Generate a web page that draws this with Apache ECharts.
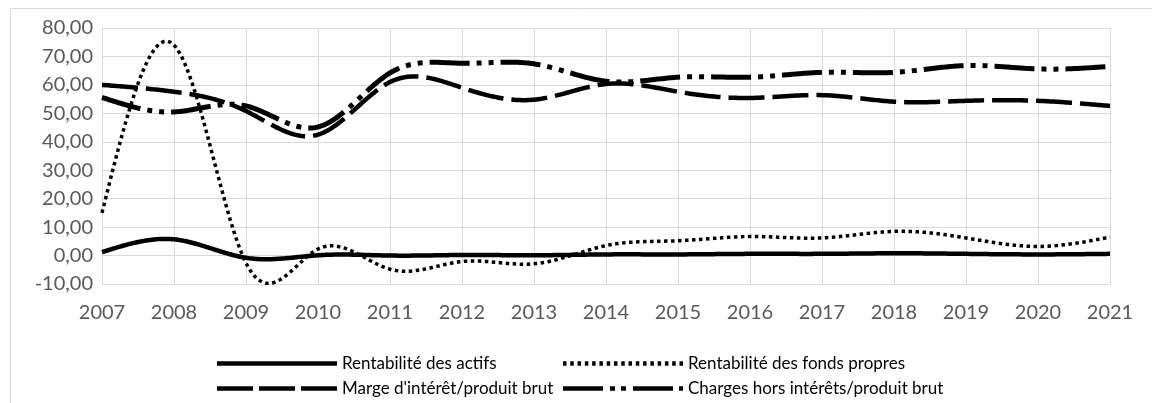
<!DOCTYPE html>
<html>
<head>
<meta charset="utf-8">
<script src="https://cdn.jsdelivr.net/npm/echarts@6/dist/echarts.min.js"></script>
<style>
html,body{margin:0;padding:0;background:#fff;}
#chart{width:1152px;height:403px;}
</style>
</head>
<body>
<div id="chart"></div>
<script>
var years = ['2007','2008','2009','2010','2011','2012','2013','2014','2015','2016','2017','2018','2019','2020','2021'];
var roa = [1.2, 5.7, -0.8, 0.1, 0.0, 0.2, 0.1, 0.4, 0.4, 0.6, 0.6, 0.8, 0.6, 0.4, 0.6];
var roe = [15.0, 74.0, -2.6, 2.3, -4.8, -2.1, -2.9, 3.5, 5.2, 6.7, 6.2, 8.5, 6.2, 3.2, 6.5];
var marge = [60.0, 57.6, 50.8, 42.5, 61.0, 59.0, 54.8, 60.3, 57.6, 55.4, 56.4, 54.1, 54.4, 54.4, 52.6];
var charges = [55.6, 50.5, 52.6, 45.2, 64.2, 67.6, 67.4, 61.3, 62.7, 62.7, 64.4, 64.4, 66.8, 65.6, 66.5];
var names = ['Rentabilité des actifs', 'Rentabilité des fonds propres', "Marge d'intérêt/produit brut", 'Charges hors intérêts/produit brut'];

// legend icon shapes (120 x 4.5 boxes)
function rects(list) {
  return 'path://' + list.map(function (r) {
    return 'M' + r[0] + ',0H' + r[1] + 'V4.5H' + r[0] + 'Z';
  }).join('');
}
var dots = [];
for (var k = 0; k < 17; k++) { var s0 = +(k * 7.28).toFixed(2); dots.push([s0, +(s0 + 3.5).toFixed(2)]); }
dots[16][1] = 120;
var icons = [
  rects([[0, 120]]),
  rects(dots),
  rects([[0, 36], [42, 78], [84, 120]]),
  rects([[0, 40], [47, 52], [58, 63], [70, 110], [116, 120]])
];

var chart = echarts.init(document.getElementById('chart'), null, {renderer: 'canvas'});
var legendText = {fontFamily: 'Lato', fontSize: 17, color: '#000'};
function leg(idx, left, top) {
  return {
    data: [{name: names[idx], icon: icons[idx]}], left: left, top: top, padding: 0,
    itemWidth: 120, itemHeight: 4.5, itemGap: 0, textStyle: legendText, selectedMode: false,
    itemStyle: {color: '#000', borderWidth: 0}
  };
}
// natural cubic spline through the knots (pixel space, uniform spacing)
function splineY(ys) {
  var n = ys.length, M = new Array(n).fill(0);
  var a = [], b = [], c = [], d = [];
  for (var i = 1; i < n - 1; i++) {
    a.push(1); b.push(4); c.push(1); d.push(6 * (ys[i + 1] - 2 * ys[i] + ys[i - 1]));
  }
  var m = d.length;
  for (var j = 1; j < m; j++) {
    var w = a[j] / b[j - 1];
    b[j] -= w * c[j - 1]; d[j] -= w * d[j - 1];
  }
  var sol = new Array(m);
  sol[m - 1] = d[m - 1] / b[m - 1];
  for (var j2 = m - 2; j2 >= 0; j2--) sol[j2] = (d[j2] - c[j2] * sol[j2 + 1]) / b[j2];
  for (var q = 0; q < m; q++) M[q + 1] = sol[q];
  return M;
}
function curve(name, arr, width, dash) {
  return {
    name: name, type: 'custom', coordinateSystem: 'cartesian2d',
    data: arr.map(function (v, i) { return [i, v]; }),
    encode: {x: 0, y: 1},
    itemStyle: {color: '#000'},
    renderItem: function (params, api) {
      if (params.dataIndex !== 0) return null;
      var n = arr.length;
      var P = arr.map(function (v, i) { return api.coord([i, v]); });
      var M = splineY(P.map(function (p) { return p[1]; }));
      var pts = [P[0]];
      for (var i = 0; i < n - 1; i++) {
        var p1 = P[i], p2 = P[i + 1];
        for (var s = 1; s <= 36; s++) {
          var t = s / 36, u = 1 - t;
          var y = u * p1[1] + t * p2[1] + ((u * u * u - u) * M[i] + (t * t * t - t) * M[i + 1]) / 6;
          pts.push([p1[0] + t * (p2[0] - p1[0]), y]);
        }
      }
      return {
        type: 'polyline', shape: {points: pts},
        style: {stroke: '#000', fill: null, lineWidth: width, lineDash: dash, lineCap: 'butt', lineJoin: 'round'}
      };
    }
  };
}
chart.setOption({
  animation: false,
  backgroundColor: '#fff',
  graphic: [{
    type: 'rect', shape: {x: 10.5, y: 8.5, width: 1300, height: 600},
    style: {fill: 'none', stroke: '#d9d9d9', lineWidth: 1}, silent: true, z: -10
  }],
  grid: {left: 102, right: 42, top: 28, bottom: 119, containLabel: false},
  legend: [
    leg(0, 217, 355),
    leg(1, 563, 355),
    leg(2, 217, 380),
    leg(3, 563, 380)
  ],
  xAxis: {
    type: 'category', data: years, boundaryGap: false,
    axisLine: {show: true, lineStyle: {color: '#d9d9d9', width: 1}},
    axisTick: {show: false},
    splitLine: {show: true, showMinLine: true, showMaxLine: true, lineStyle: {color: '#d9d9d9', width: 1}},
    axisLabel: {fontFamily: 'Lato', fontSize: 20, color: '#595959', margin: 19}
  },
  yAxis: {
    type: 'value', min: -10, max: 80, interval: 10,
    axisLine: {show: false}, axisTick: {show: false},
    splitLine: {show: true, lineStyle: {color: '#d9d9d9', width: 1}},
    axisLabel: {fontFamily: 'Lato', fontSize: 20, color: '#595959', margin: 9,
      formatter: function (v) { return v.toFixed(2).replace('.', ','); }}
  },
  series: [
    curve(names[0], roa, 4.5, null),
    curve(names[1], roe, 3.5, [3.5, 3.5]),
    curve(names[2], marge, 4.5, [36, 8]),
    curve(names[3], charges, 5, [40, 7, 5, 7, 5, 7])
  ]
});
</script>
</body>
</html>
